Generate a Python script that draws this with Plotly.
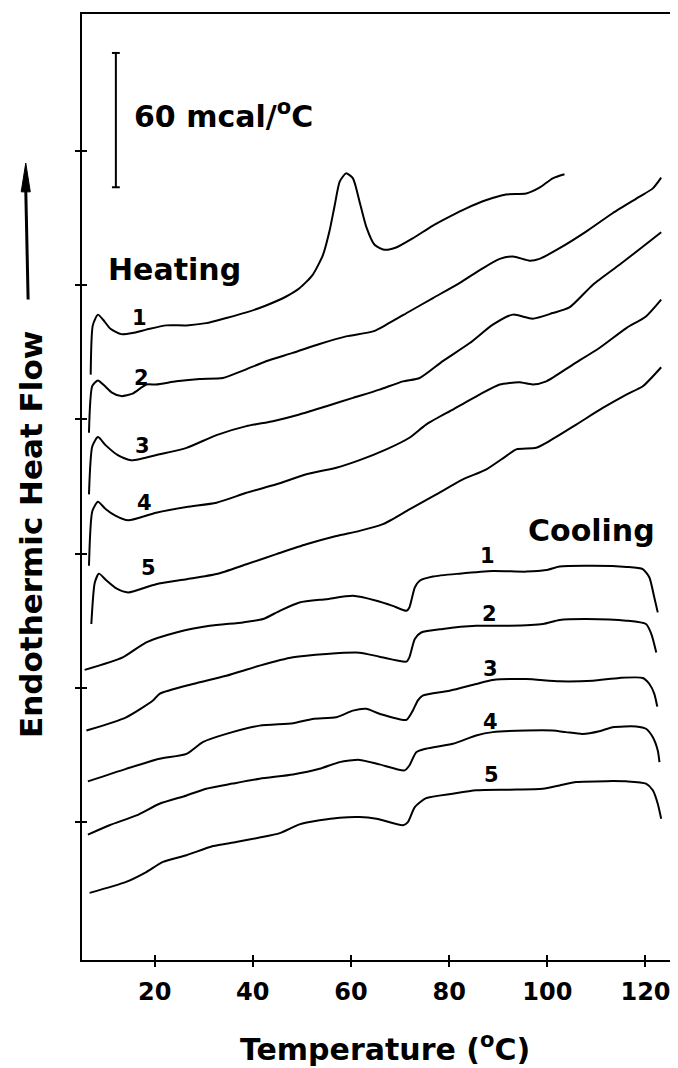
import plotly.graph_objects as go

# ---------------- data (temperature in degC, heat flow in mcal/degC, curves offset as plotted) -------------
heat1_T = [6.97, 7.4, 8.45, 9.5, 11.0, 13.2, 15.5, 18.3, 22.4, 26.5, 30.5, 34.6, 38.7, 42.7, 46.8, 49.5, 52.2,
           54.3, 55.6, 56.7, 57.7, 59.0, 60.4, 61.8, 63.1, 64.8, 66.8, 69.2, 72.6, 76.7, 80.1, 83.5, 87.6,
           91.6, 95.7, 98.4, 101.1, 103.5]
heat1_V = [260.0, 282.0, 286.8, 284.5, 280.5, 278.1, 278.6, 280.1, 282.0, 282.0, 283.0, 285.3, 287.8, 290.9,
           294.9, 298.6, 304.6, 313.5, 323.9, 335.8, 346.2, 349.9, 347.7, 336.8, 326.1, 318.0, 315.8, 316.8,
           320.9, 326.6, 330.6, 334.3, 338.0, 340.5, 340.9, 343.5, 347.7, 349.5]

heat2_T = [6.62, 7.3, 8.45, 9.8, 11.3, 13.2, 15.5, 18.3, 20.3, 24.4, 29.2, 33.9, 38.0, 42.7, 48.1, 53.6, 59.0,
           64.5, 67.2, 71.9, 76.7, 82.1, 86.9, 90.3, 93.0, 96.4, 98.4, 102.5, 107.9, 113.3, 118.8, 121.5, 123.2]
heat2_V = [234.0, 255.0, 257.4, 255.0, 252.0, 250.4, 251.5, 255.6, 255.6, 257.0, 258.1, 258.5, 261.8, 266.0,
           269.7, 273.7, 277.1, 279.3, 282.3, 288.2, 294.2, 300.9, 307.6, 311.7, 312.8, 310.9, 311.7, 316.5,
           323.9, 332.1, 339.5, 343.2, 348.0]

heat3_T = [6.62, 7.3, 8.45, 10.0, 12.5, 15.25, 21.0, 26.5, 32.6, 38.7, 44.1, 49.5, 55.0, 60.4, 65.8, 70.6,
           74.0, 78.7, 84.2, 88.9, 93.0, 97.0, 101.1, 104.5, 109.3, 114.7, 119.5, 123.2]
heat3_V = [206.5, 228.0, 232.1, 228.5, 224.0, 221.7, 224.4, 227.3, 233.0, 237.0, 239.2, 242.2, 245.9, 249.6,
           253.3, 257.0, 258.5, 266.0, 274.1, 282.3, 286.8, 285.0, 287.5, 290.0, 300.2, 309.1, 317.2, 323.6]

heat4_T = [6.62, 7.3, 8.45, 10.0, 12.0, 14.6, 20.3, 26.5, 32.6, 38.7, 44.8, 50.9, 57.0, 61.75, 67.2, 71.9,
           75.3, 80.75, 86.2, 90.3, 94.3, 97.0, 99.8, 105.2, 110.6, 116.1, 120.1, 123.2]
heat4_V = [174.6, 199.0, 203.2, 200.0, 197.0, 194.9, 198.3, 200.9, 202.8, 207.2, 211.0, 215.5, 218.4, 221.8,
           226.6, 231.8, 237.7, 244.4, 251.1, 255.6, 256.6, 255.6, 257.0, 264.5, 271.9, 280.8, 286.0, 293.5]

heat5_T = [7.1, 7.8, 8.65, 10.2, 12.2, 14.6, 20.3, 26.5, 32.6, 38.7, 44.8, 50.9, 57.0, 61.75, 66.5, 71.9,
           77.4, 82.8, 87.6, 91.6, 93.7, 97.7, 100.4, 105.9, 111.3, 116.1, 119.45, 123.2]
heat5_V = [148.6, 167.0, 171.1, 168.0, 164.5, 162.7, 166.4, 168.6, 170.9, 175.3, 179.8, 184.2, 187.9, 190.2,
           193.2, 199.8, 206.5, 213.2, 217.7, 223.6, 226.6, 227.3, 230.3, 237.7, 245.1, 251.1, 254.8, 263.3]

cool1_T = [5.74, 13.5, 18.3, 24.4, 31.2, 38.0, 42.1, 45.5, 49.5, 55.0, 60.4, 65.2, 68.5, 71.3, 71.9, 73.0,
           74.0, 76.7, 82.1, 88.9, 95.7, 99.8, 102.5, 109.3, 116.1, 119.45, 120.8, 121.8, 122.5]
cool1_V = [128.1, 133.7, 140.4, 144.8, 147.8, 149.3, 150.8, 154.5, 158.2, 159.7, 161.2, 159.0, 156.7, 154.5,
           156.0, 164.9, 167.9, 169.8, 171.1, 172.3, 172.0, 172.7, 174.3, 174.6, 174.1, 173.1, 169.4, 160.4, 153.8]

cool2_T = [6.1, 14.2, 19.65, 21.0, 27.8, 34.6, 41.4, 48.2, 55.0, 61.75, 65.8, 71.3, 71.9, 73.0, 74.3, 78.7,
           85.5, 92.3, 99.1, 102.5, 107.9, 116.1, 120.1, 121.2, 122.2]
cool2_V = [101.0, 106.9, 114.4, 117.4, 121.8, 125.5, 130.0, 133.7, 135.2, 135.8, 134.0, 131.8, 133.7, 141.9,
           144.8, 146.4, 147.8, 147.8, 148.6, 150.4, 150.8, 150.1, 148.6, 144.1, 135.9]

cool3_T = [6.4, 14.2, 21.0, 26.5, 29.8, 34.6, 41.4, 48.2, 52.2, 57.0, 60.4, 63.1, 65.8, 71.3, 72.6, 73.6,
           74.6, 80.1, 85.5, 88.9, 95.7, 102.5, 109.3, 114.7, 119.45, 120.8, 121.8, 122.4]
cool3_V = [78.3, 83.9, 88.4, 90.6, 95.8, 99.5, 103.2, 104.3, 106.2, 106.9, 109.9, 110.7, 108.5, 105.8, 109.9,
           114.4, 116.6, 118.8, 121.8, 123.6, 124.0, 123.0, 123.3, 124.5, 124.5, 121.8, 117.4, 111.7]

cool4_T = [6.4, 10.8, 16.3, 21.0, 26.5, 30.5, 35.9, 41.4, 48.2, 53.6, 57.7, 61.75, 65.8, 70.9, 71.9, 73.3,
           75.3, 80.75, 85.5, 88.9, 95.7, 101.1, 103.8, 107.2, 110.6, 113.3, 118.1, 120.1, 121.5, 122.5, 122.85]
cool4_V = [54.5, 58.7, 63.1, 68.3, 72.0, 75.0, 77.3, 79.5, 81.4, 83.9, 86.9, 87.9, 85.9, 83.2, 85.4, 91.3,
           92.9, 95.1, 98.8, 100.3, 101.0, 101.0, 100.3, 99.5, 100.7, 102.5, 102.8, 101.8, 98.0, 92.1, 86.9]

cool5_T = [6.75, 14.2, 18.3, 21.7, 26.5, 31.9, 36.6, 41.4, 45.5, 49.5, 53.6, 57.7, 61.75, 65.2, 70.6, 71.6,
           73.0, 75.3, 80.75, 85.5, 92.3, 99.1, 102.5, 105.9, 112.0, 116.1, 120.1, 121.5, 122.5, 123.2]
cool5_V = [28.5, 33.4, 37.8, 42.3, 45.3, 49.4, 51.2, 53.2, 55.2, 59.1, 60.9, 62.1, 62.4, 61.6, 58.7, 60.1,
           66.8, 70.8, 72.8, 74.3, 74.6, 75.0, 76.5, 78.0, 78.4, 78.3, 77.3, 74.3, 68.3, 61.6]

scan_names = ["1", "2", "3", "4", "5"]
x_tick_vals = [20, 40, 60, 80, 100, 120]
y_tick_vals = [60, 120, 180, 240, 300, 360]

# label anchors (data coordinates)
heat_label_T = [16.9, 17.25, 17.6, 17.9, 18.8]
heat_label_V = [285.3, 258.5, 228.1, 202.8, 173.8]
cool_label_T = [87.9, 88.25, 88.5, 88.5, 88.6]
cool_label_V = [179.0, 153.0, 128.5, 104.7, 81.0]

scale_bar_T = 12.1
scale_bar_top = 403.7
scale_bar_len = 60.0  # mcal/degC

X_RANGE = [5.2, 125.2]
Y_RANGE = [-1.5, 421.1]

FONT = "DejaVu Sans"

# ---------------- figure -------------
heating = [(heat1_T, heat1_V), (heat2_T, heat2_V), (heat3_T, heat3_V), (heat4_T, heat4_V), (heat5_T, heat5_V)]
cooling = [(cool1_T, cool1_V), (cool2_T, cool2_V), (cool3_T, cool3_V), (cool4_T, cool4_V), (cool5_T, cool5_V)]

line_style = dict(color="black", width=2, shape="spline", smoothing=0.6)

fig = go.Figure()
for name, (T, V) in zip(scan_names, heating):
    fig.add_trace(go.Scatter(x=T, y=V, mode="lines", name="Heating " + name,
                             line=line_style, showlegend=False))
for name, (T, V) in zip(scan_names, cooling):
    fig.add_trace(go.Scatter(x=T, y=V, mode="lines", name="Cooling " + name,
                             line=line_style, showlegend=False))

# invisible trace on overlay axes (gives crossing tick marks)
fig.add_trace(go.Scatter(x=[X_RANGE[0]], y=[Y_RANGE[0]], xaxis="x2", yaxis="y2", mode="markers",
                         marker=dict(opacity=0), showlegend=False, hoverinfo="skip"))

tick_font = dict(family=FONT, size=24, color="black", weight="bold")

# the page body has an 8px margin, so the figure is 8px smaller than the window
fig.update_layout(
    width=670, height=1060,
    margin=dict(l=74, r=7, t=4, b=108),
    paper_bgcolor="white", plot_bgcolor="white",
    showlegend=False,
    xaxis=dict(range=X_RANGE, tickvals=x_tick_vals, ticks="outside", ticklen=5, tickwidth=2,
               tickcolor="black", showline=True, linewidth=2, linecolor="black", mirror=True,
               showgrid=False, zeroline=False, tickfont=tick_font, ticklabelstandoff=4),
    yaxis=dict(range=Y_RANGE, tickvals=y_tick_vals, ticks="outside", ticklen=5, tickwidth=2,
               tickcolor="black", showline=True, linewidth=2, linecolor="black", mirror=True,
               showgrid=False, zeroline=False, showticklabels=False),
    xaxis2=dict(range=X_RANGE, overlaying="x", anchor="y2", tickvals=x_tick_vals, ticks="inside",
                ticklen=5, tickwidth=2, tickcolor="black", showticklabels=False, showline=False,
                showgrid=False, zeroline=False),
    yaxis2=dict(range=Y_RANGE, overlaying="y", anchor="x2", side="left", tickvals=y_tick_vals,
                ticks="inside", ticklen=5, tickwidth=2, tickcolor="black", showticklabels=False,
                showline=False, showgrid=False, zeroline=False),
)

# scale bar
cap = 0.8
fig.add_shape(type="line", xref="x", yref="y", x0=scale_bar_T, x1=scale_bar_T,
              y0=scale_bar_top - scale_bar_len, y1=scale_bar_top, line=dict(color="black", width=2))
for yy in (scale_bar_top, scale_bar_top - scale_bar_len):
    fig.add_shape(type="line", xref="x", yref="y", x0=scale_bar_T - cap, x1=scale_bar_T + cap,
                  y0=yy, y1=yy, line=dict(color="black", width=2))

# arrow next to the y title (paper coordinates)
ax_x = -0.0955
fig.add_shape(type="line", xref="paper", yref="paper", x0=ax_x + 0.004, x1=ax_x, y0=0.6983, y1=0.815,
              line=dict(color="black", width=3))
fig.add_shape(type="path", xref="paper", yref="paper",
              path=f"M {ax_x - 0.0077} 0.812 L {ax_x} 0.8425 L {ax_x + 0.0077} 0.812 Z",
              fillcolor="black", line=dict(color="black", width=1))

big = dict(family=FONT, size=30, color="black", weight="bold")
num = dict(family=FONT, size=21, color="black", weight="bold")

fig.add_annotation(x=15.3, y=376.1, xref="x", yref="y", text="60 mcal/<sup>o</sup>C",
                   showarrow=False, xanchor="left", yanchor="middle", font=big)
fig.add_annotation(x=24.1, y=307.0, xref="x", yref="y", text="Heating",
                   showarrow=False, xanchor="center", yanchor="middle", font=big)
fig.add_annotation(x=109.0, y=190.2, xref="x", yref="y", text="Cooling",
                   showarrow=False, xanchor="center", yanchor="middle", font=big)

for name, tx, ty in zip(scan_names, heat_label_T, heat_label_V):
    fig.add_annotation(x=tx, y=ty, xref="x", yref="y", text=name, showarrow=False,
                       xanchor="center", yanchor="middle", font=num)
for name, tx, ty in zip(scan_names, cool_label_T, cool_label_V):
    fig.add_annotation(x=tx, y=ty, xref="x", yref="y", text=name, showarrow=False,
                       xanchor="center", yanchor="middle", font=num)

# axis titles
fig.add_annotation(x=-0.0866, y=0.4504, xref="paper", yref="paper", text="Endothermic Heat Flow",
                   textangle=-90, showarrow=False, xanchor="center", yanchor="middle",
                   font=dict(family=FONT, size=31, color="black", weight="bold"))
fig.add_annotation(x=0.514, y=-0.093, xref="paper", yref="paper", text="Temperature (<sup>o</sup>C)",
                   showarrow=False, xanchor="center", yanchor="middle",
                   font=dict(family=FONT, size=30, color="black", weight="bold"))

fig.write_html("out.html")
